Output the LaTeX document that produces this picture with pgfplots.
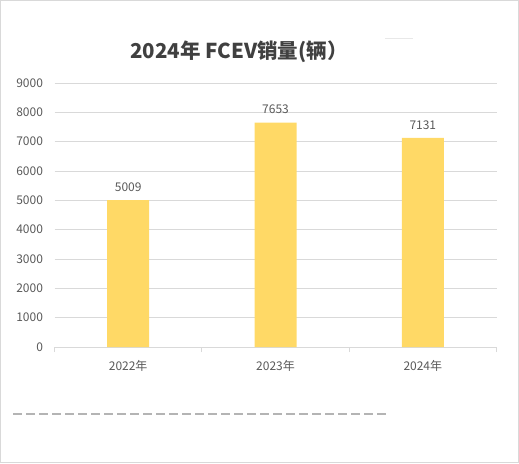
\documentclass[border=0pt]{standalone}
\usepackage{pgfplots}
\pgfplotsset{compat=1.18}
\usepackage{fontspec}
\setmainfont{Noto Sans CJK SC}
\definecolor{barfill}{HTML}{FFD966}
\definecolor{txt}{HTML}{595959}
\definecolor{ttl}{HTML}{404040}
\definecolor{gridc}{HTML}{D9D9D9}
\definecolor{dashc}{HTML}{B4B4B4}
\begin{document}
\begin{tikzpicture}
\path[use as bounding box] (0,0) rectangle (519pt,463pt);
\draw[gridc, line width=1pt] (0.5pt,0.5pt) rectangle (518.5pt,462.5pt);
\node[font=\fontsize{20.5}{24}\selectfont\bfseries, text=ttl] at (239pt,411pt) {2024年 FCEV销量(辆）};
\draw[dashc, line width=1.8pt, dash pattern=on 8.5pt off 4.5pt] (13pt,49pt) -- (390pt,49pt);
\draw[gridc!60, line width=1pt] (385pt,424pt) -- (413pt,424pt);
\begin{axis}[
  at={(54.5pt,116pt)}, anchor=south west,
  scale only axis, width=442pt, height=264pt,
  xmin=0.5, xmax=3.5, ymin=0, ymax=9000,
  ybar, bar width=42pt,
  axis x line*=bottom, axis y line*=left,
  y axis line style={draw=none},
  x axis line style={gridc, line width=0.8pt},
  ytick={0,1000,...,9000}, ytick style={draw=none},
  ymajorgrids, grid style={gridc, line width=0.8pt},
  xtick={1,2,3}, xticklabels={2022年,2023年,2024年},
  xtick style={draw=none},
  extra x ticks={0.5,1.5,2.5,3.5}, extra x tick labels={},
  extra x tick style={xtick style={draw=gridc, line width=0.8pt}, tick align=outside, major tick length=5pt},
  tick label style={font=\fontsize{12}{14}\selectfont, text=txt},
  yticklabel style={xshift=-8pt},
  xticklabel style={yshift=-6pt},
  /pgf/number format/1000 sep={},
  /pgf/number format/assume math mode=true,
]
\addplot[fill=barfill, draw=none, nodes near coords,
  every node near coord/.append style={font=\fontsize{12}{14}\selectfont, text=txt, yshift=5pt}]
  coordinates {(1,5009) (2,7653) (3,7131)};
\end{axis}
\end{tikzpicture}
\end{document}
